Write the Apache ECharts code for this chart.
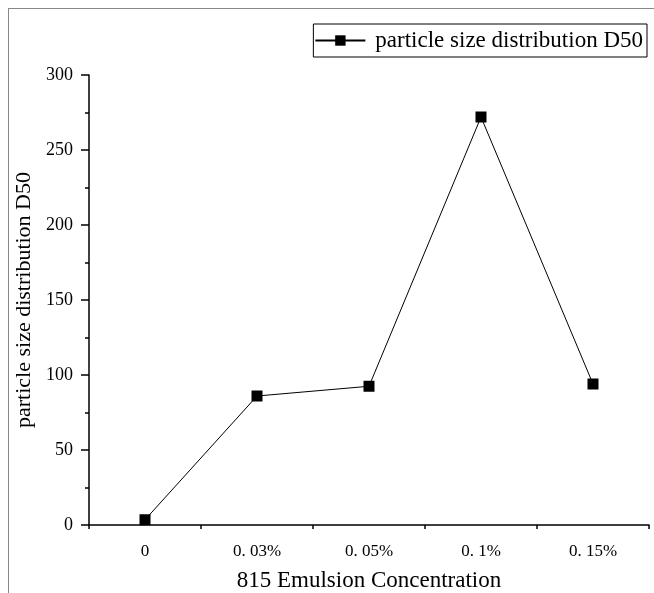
<!DOCTYPE html>
<html>
<head>
<meta charset="utf-8">
<script src="https://cdn.jsdelivr.net/npm/echarts@6/dist/echarts.min.js"></script>
<style>
  html, body { margin: 0; padding: 0; background: #fff; }
  #frame { position: absolute; left: 8px; top: 8px; right: 0; bottom: 0; border-left: 1px solid #888; border-top: 1px solid #888; }
  #chart { position: absolute; left: 0; top: 0; width: 654px; height: 593px; }
</style>
</head>
<body>
<div id="frame"></div>
<div id="chart"></div>
<script>
// 数据
const categories = ['0', '0. 03%', '0. 05%', '0. 1%', '0. 15%']
const d50 = [3.5, 86, 92.5, 272, 94]
const seriesName = 'particle size distribution D50'
const xName = '815 Emulsion Concentration'

const chart = echarts.init(document.getElementById('chart'))
const serif = 'Liberation Serif'

chart.setOption({
  animation: false,
  grid: { left: 89, right: 5, top: 75, bottom: 68, outerBoundsMode: 'none' },
  legend: {
    right: 7,
    top: 24,
    padding: [5, 4, 5, 1],
    borderColor: '#000',
    borderWidth: 1,
    borderRadius: 0,
    itemWidth: 50,
    itemHeight: 13,
    textStyle: { fontFamily: serif, fontSize: 23, color: '#000', padding: [0, 0, 0, 5] },
    data: [seriesName]
  },
  xAxis: [{
    type: 'category',
    data: categories,
    position: 'bottom',
    name: xName,
    nameLocation: 'middle',
    nameGap: 44,
    nameTextStyle: { fontFamily: serif, fontSize: 23, color: '#000' },
    axisLine: { lineStyle: { color: '#000', width: 1.5 } },
    axisTick: { alignWithLabel: true, length: 8, lineStyle: { color: '#000', width: 1.5 } },
    axisLabel: { fontFamily: serif, fontSize: 17, color: '#000', margin: 18 },
    splitLine: { show: false }
  }, {
    // 边界刻度
    type: 'category',
    data: categories,
    position: 'bottom',
    axisLine: { show: false },
    axisTick: { show: true, length: 4, lineStyle: { color: '#000', width: 1.5 } },
    axisLabel: { show: false },
    splitLine: { show: false }
  }],
  yAxis: {
    type: 'value',
    min: 0,
    max: 300,
    interval: 50,
    name: seriesName,
    nameLocation: 'middle',
    nameGap: 45,
    nameTextStyle: { fontFamily: serif, fontSize: 22, color: '#000' },
    axisLine: { show: true, lineStyle: { color: '#000', width: 1.5 } },
    axisTick: { show: true, length: 8, lineStyle: { color: '#000', width: 1.5 } },
    minorTick: { show: true, splitNumber: 2, length: 4, lineStyle: { color: '#000', width: 1.5 } },
    axisLabel: { fontFamily: serif, fontSize: 18, color: '#000', margin: 16 },
    splitLine: { show: false }
  },
  series: [{
    name: seriesName,
    type: 'line',
    data: d50,
    symbol: 'rect',
    symbolSize: 11,
    itemStyle: { color: '#000' },
    lineStyle: { color: '#000', width: 1 }
  }]
})
</script>
</body>
</html>
